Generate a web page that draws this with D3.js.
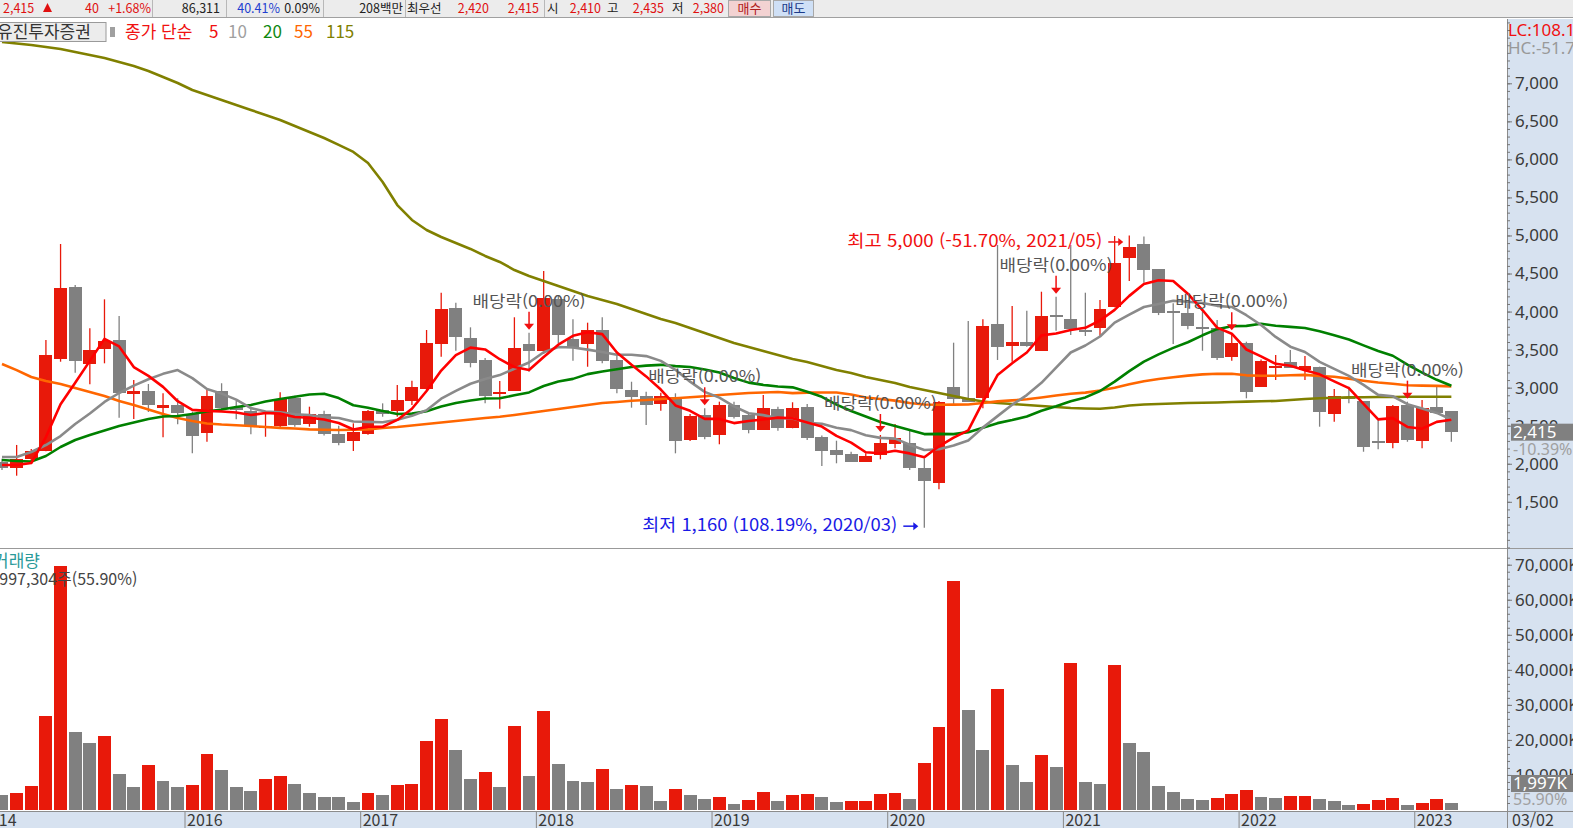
<!DOCTYPE html>
<html lang="ko">
<head>
<meta charset="UTF-8">
<title>유진투자증권 월봉</title>
<script src="https://d3js.org/d3.v7.min.js"></script>
<style>
  body { margin: 0; background: #fff; overflow: hidden; }
  svg { display: block; font-family: "Noto Sans CJK KR", "Noto Sans", sans-serif; }
</style>
</head>
<body>
<div id="chart"></div>
<script>
// monthly candles, Dec 2014 .. Mar 2023
const months = d3.timeMonth.range(new Date(2014, 11, 1), new Date(2023, 3, 1)).map(d3.timeFormat("%Y/%m"));

const open = [2020,1944,2062,2172,3381,4323,3314,3504,3627,2916,2956,2737,2772,2654,2408,2956,2746,2693,2479,2500,
  2864,2518,2654,2391,2299,2395,2706,2697,2829,2987,3577,4047,3652,3364,2926,2960,3574,3485,4161,3639,
  3577,3758,3364,2969,2895,2785,2881,2312,2641,2378,2772,2637,2447,2720,2474,2742,2355,2181,2124,2027,
  2114,2256,2269,1948,1751,3012,2860,2860,3837,3551,3596,3485,3958,3902,3758,3781,4056,4700,4888,4556,
  4012,3985,3801,3781,3407,3583,3012,3268,3337,3232,3276,2650,2881,2825,2299,2276,2772,2303,2750,2693];
const high = [2065,2247,2193,3627,4888,4350,3780,4161,3942,3101,3048,2926,2860,2684,2979,3058,2829,2729,2684,2939,
  2895,2750,2697,2500,2531,2706,2794,3035,3091,3758,4248,4116,3793,3390,3087,3925,3722,4533,4204,3898,
  3854,3925,3429,3078,2947,2934,2926,2654,2729,2816,2816,2654,2904,2750,2808,2785,2371,2303,2158,2137,
  2378,2522,2452,2072,2825,3591,3876,3898,4875,4073,4012,4261,4195,4875,4248,4152,4993,5000,4985,4556,
  4109,4109,4021,3889,3714,3604,3369,3429,3495,3416,3276,2983,3012,2825,2575,2772,2816,2837,3035,2693];
const low = [1917,1843,2010,2164,3341,3197,3044,3320,2605,2588,2680,2348,2518,2137,2289,2684,2584,2387,2355,2456,
  2487,2487,2371,2243,2168,2382,2618,2618,2772,2969,3407,3485,3267,2794,2724,2960,3210,3442,3583,3354,
  3275,3320,2926,2737,2510,2697,2137,2299,2321,2256,2595,2400,2447,2434,2466,2312,1970,2006,2027,2027,
  2058,2203,1917,1160,1664,2772,2811,2729,3364,3341,3537,3485,3749,3692,3679,3683,4056,4402,4379,3954,
  3574,3767,3485,3364,3354,2860,3012,3101,3262,3101,2487,2553,2794,2158,2190,2203,2289,2203,2664,2289];
const close = [1941,2058,2172,3429,4310,3354,3495,3617,2933,2956,2776,2772,2671,2368,2890,2737,2707,2500,2500,2851,
  2513,2654,2387,2276,2421,2693,2654,2837,3008,3591,4033,3670,3328,2891,2947,3521,3477,4183,3696,3531,
  3758,3350,2979,2881,2772,2895,2303,2628,2351,2772,2618,2443,2729,2470,2729,2343,2172,2114,2027,2102,
  2276,2335,1941,1778,2816,2847,2816,3810,3539,3596,3551,3942,3933,3771,3735,4030,4643,4852,4546,3985,
  3985,3810,3775,3393,3583,2947,3354,3289,3262,3285,2684,2891,2851,2216,2276,2763,2312,2737,2664,2415];
// volume in thousands of shares
const volume = [4170,4953,6956,26950,69770,22170,19020,21255,10373,6672,12967,8390,6672,7221,16119,11289,6672,5492,8950,9560,
  7526,4983,3824,3763,2390,4983,4373,7221,7373,19832,25832,17187,8950,10984,6672,23900,9560,28171,13221,8390,
  8105,11797,6102,7221,6956,2675,6102,4373,3254,3824,1831,2949,5238,2675,4373,4475,3824,2390,2492,2675,
  4678,4953,3254,13526,23594,65393,28578,17187,34476,12713,8105,15764,12407,41900,8105,7526,41290,19018,16679,6956,
  5238,3254,2949,3529,4678,5797,3824,3529,3865,4099,3254,2675,1526,1831,2949,3529,1526,2105,3254,1997];

const ma5Lead = [1984,1984,2010,2351];
const ma10Lead = [2089,2089,2154,2246,2364,2522,2661,2812,2930];
const ma20Lead = [2050,2037,2030,2102,2220,2312,2378,2437,2495,2542,2588,2621,2628,2654,2686,2713,2746,2772,2818];
const ma55Lead = [3311,3231,3140,3087,3048,2995,2943,2890,2825,2772,2713,2654,2601,2562,2529,2515,2506,2496,2483,2472,
  2463,2452,2446,2443,2446,2452,2470,2483,2503,2522,2542,2562,2582,2601,2618,2641,2667,2693,2720,2746,
  2772,2798,2812,2829,2837,2851,2860,2873,2887,2904,2916,2930,2936,2943];
const ma115Lead = [7542,7523,7503,7477,7451,7411,7372,7332,7280,7228,7161,7083,7004,6912,6846,6780,6715,6649,6584,6517,
  6438,6360,6281,6190,6098,5952,5703,5400,5204,5072,4980,4902,4823,4731,4652,4546,4468,4402,4336,4270,
  4204,4152,4100,4033,3968,3902,3850,3784,3718,3652,3587,3534,3481,3429,3377,3337,3285,3231,3193,3140,
  3100,3062,3008,2969,2929,2890,2850,2818,2798,2785,2772,2758,2746,2733,2726,2723,2739,2765,2778,2785,
  2792,2798,2802,2805,2812,2816,2821,2825,2837,2851,2860,2867,2872,2875,2877,2877,2880,2881,2881,2881];

const dividendMonths = ["2017/12","2018/12","2019/12","2020/12","2021/12","2022/12"];
const highMonth = "2021/05", highValue = 5000;
const lowMonth = "2020/03", lowValue = 1160;
const yearTicks = ["2016","2017","2018","2019","2020","2021","2022","2023"];
const priceTicks = d3.range(1500, 7001, 500);
const priceMinor = d3.range(900, 7801, 100);
const volTicks = d3.range(10000, 70001, 10000);
const volMinor = d3.range(2000, 72001, 2000);

const width = 1573, height = 828;
const plotRight = 1507;
const priceTop = 19, priceBottom = 548, volTop = 549, volBottom = 810;
const upColor = "#e8190a", downColor = "#808080";
const panelBg = "#d7e2f0";

const svg = d3.select("#chart").append("svg")
    .attr("width", width)
    .attr("height", height);

const defs = svg.append("defs");
defs.append("clipPath").attr("id", "clipPrice").append("rect")
    .attr("x", 0).attr("y", priceTop).attr("width", plotRight).attr("height", priceBottom - priceTop);
defs.append("clipPath").attr("id", "clipVol").append("rect")
    .attr("x", 0).attr("y", volTop).attr("width", plotRight).attr("height", volBottom - volTop + 1);

const x = d3.scaleBand()
    .domain(months)
    .range([-5.32, 1458.68])
    .paddingInner(0.12)
    .paddingOuter(0.06);
const cx = m => x(m) + x.bandwidth() / 2;

const y = d3.scaleLinear().domain([1500, 7000]).range([501.8, 83.3]);
const yVol = d3.scaleLinear().domain([0, 70000]).range([volBottom, 564.7]);

// ---- panels ----
svg.append("rect").attr("x", plotRight).attr("y", priceTop).attr("width", width - plotRight).attr("height", height - priceTop).attr("fill", panelBg);
svg.append("rect").attr("x", 0).attr("y", 811.5).attr("width", width).attr("height", height - 811.5).attr("fill", panelBg);
svg.append("line").attr("x1", 0).attr("x2", width).attr("y1", 811.5).attr("y2", 811.5).attr("stroke", "#8c8c8c");
svg.append("line").attr("x1", plotRight + 0.5).attr("x2", plotRight + 0.5).attr("y1", priceTop).attr("y2", height).attr("stroke", "#8c8c8c");
svg.append("line").attr("x1", 0).attr("x2", width).attr("y1", 548.5).attr("y2", 548.5).attr("stroke", "#999");

// ---- candles ----
const priceG = svg.append("g").attr("clip-path", "url(#clipPrice)");
const candles = months.map((m, i) => ({ m, o: open[i], h: high[i], l: low[i], c: close[i] }));

priceG.selectAll("line.wick")
    .data(candles)
    .join("line")
    .attr("class", "wick")
    .attr("x1", d => cx(d.m)).attr("x2", d => cx(d.m))
    .attr("y1", d => y(d.h)).attr("y2", d => y(d.l))
    .attr("stroke", d => d.c >= d.o ? upColor : downColor)
    .attr("stroke-width", 1.3);

priceG.selectAll("rect.body")
    .data(candles)
    .join("rect")
    .attr("class", "body")
    .attr("x", d => x(d.m))
    .attr("width", x.bandwidth())
    .attr("y", d => y(Math.max(d.o, d.c)))
    .attr("height", d => Math.max(2, Math.abs(y(d.o) - y(d.c))))
    .attr("fill", d => d.c >= d.o ? upColor : downColor)
    .attr("shape-rendering", "crispEdges");

// ---- moving averages ----
function movingAverage(period, lead) {
  return close.map((c, i) => i < period - 1 ? lead[i] : d3.mean(close.slice(i - period + 1, i + 1)));
}
const maSpecs = [
  { period: 115, color: "#808000", lead: ma115Lead },
  { period: 55, color: "#ff6600", lead: ma55Lead },
  { period: 20, color: "#008000", lead: ma20Lead },
  { period: 10, color: "#8a8a8a", lead: ma10Lead },
  { period: 5, color: "#ff0000", lead: ma5Lead }
];
const maLine = d3.line().x((d, i) => cx(months[i])).y(d => y(d));
maSpecs.forEach(s => {
  priceG.append("path")
      .datum(movingAverage(s.period, s.lead))
      .attr("d", maLine)
      .attr("fill", "none")
      .attr("stroke", s.color)
      .attr("stroke-width", 2.6)
      .attr("stroke-linejoin", "round");
});

// ---- dividend markers ----
dividendMonths.forEach(m => {
  const i = months.indexOf(m);
  const bottom = y(high[i]) - 3, top = bottom - 18, xc = cx(m);
  priceG.append("line")
      .attr("x1", xc).attr("x2", xc).attr("y1", top).attr("y2", bottom - 5)
      .attr("stroke", "#f01010").attr("stroke-width", 1.5);
  priceG.append("path")
      .attr("d", `M${xc - 5},${bottom - 6}L${xc + 5},${bottom - 6}L${xc},${bottom}Z`)
      .attr("fill", "#f01010");
  priceG.append("text")
      .attr("x", xc).attr("y", top - 5)
      .attr("text-anchor", "middle")
      .attr("font-size", 16)
      .attr("fill", "#555")
      .attr("textLength", 113).attr("lengthAdjust", "spacingAndGlyphs")
      .text("배당락(0.00%)");
});

// ---- high / low notes ----
function note(m, value, dy, label, color) {
  const tipX = cx(m) - 6, tipY = y(value) + dy;
  priceG.append("line")
      .attr("x1", tipX - 15).attr("x2", tipX - 4).attr("y1", tipY).attr("y2", tipY)
      .attr("stroke", color).attr("stroke-width", 1.5);
  priceG.append("path")
      .attr("d", `M${tipX - 5},${tipY - 4}L${tipX},${tipY}L${tipX - 5},${tipY + 4}Z`)
      .attr("fill", color);
  priceG.append("text")
      .attr("x", tipX - 21).attr("y", tipY + 5)
      .attr("text-anchor", "end")
      .attr("font-size", 17)
      .attr("fill", color)
      .attr("textLength", 255).attr("lengthAdjust", "spacingAndGlyphs")
      .text(label);
}
note(highMonth, highValue, 6.5, `최고 ${d3.format(",")(highValue)} (-51.70%, ${highMonth})`, "#f01010");
note(lowMonth, lowValue, -1.5, `최저 ${d3.format(",")(lowValue)} (108.19%, ${lowMonth})`, "#1a1ae6");

// ---- volume ----
const volG = svg.append("g").attr("clip-path", "url(#clipVol)");
volG.selectAll("rect")
    .data(volume)
    .join("rect")
    .attr("x", (d, i) => x(months[i]))
    .attr("width", x.bandwidth())
    .attr("y", d => yVol(d))
    .attr("height", d => volBottom - yVol(d))
    .attr("fill", (d, i) => i > 0 && d > volume[i - 1] ? upColor : downColor)
    .attr("shape-rendering", "crispEdges");

// ---- right axes ----
const axisG = svg.append("g").attr("transform", `translate(${plotRight},0)`);
axisG.append("g").call(d3.axisRight(y).tickValues(priceMinor).tickSize(3).tickFormat(""));
axisG.append("g").call(d3.axisRight(y).tickValues(priceTicks).tickSize(5).tickPadding(3).tickFormat(d3.format(",")));
axisG.append("g").call(d3.axisRight(yVol).tickValues(volMinor).tickSize(3).tickFormat(""));
axisG.append("g").call(d3.axisRight(yVol).tickValues(volTicks).tickSize(5).tickPadding(3).tickFormat(d => d3.format(",")(d) + "K"));
axisG.selectAll(".domain").remove();
axisG.selectAll(".tick line").attr("stroke", "#777");
axisG.selectAll(".tick text").attr("font-size", 17).attr("fill", "#3a3a3a").attr("font-family", "Noto Sans, sans-serif");

// current price / volume boxes
function valueBox(yTop, label, sub, subY) {
  svg.append("rect").attr("x", 1511).attr("y", yTop).attr("width", 62).attr("height", 17).attr("fill", "#808080");
  svg.append("text").attr("x", 1513).attr("y", yTop + 14).attr("font-size", 17).attr("fill", "#fff")
      .attr("font-family", "Noto Sans, sans-serif").text(label);
  svg.append("text").attr("x", 1513).attr("y", subY).attr("font-size", 16).attr("fill", "#a0a0a0")
      .attr("font-family", "Noto Sans, sans-serif").text(sub);
}
valueBox(y(close[99]) - 8.5, d3.format(",")(close[99]), "-10.39%", 455);
valueBox(775, d3.format(",")(volume[99]) + "K", "55.90%", 805);

svg.append("text").attr("x", 1508).attr("y", 36).attr("font-size", 17).attr("fill", "#f01010")
    .attr("font-family", "Noto Sans, sans-serif").text("LC:108.19%");
svg.append("text").attr("x", 1508).attr("y", 54).attr("font-size", 17).attr("fill", "#999")
    .attr("font-family", "Noto Sans, sans-serif").text("HC:-51.70%");

// ---- bottom date axis ----
const dateG = svg.append("g");
yearTicks.forEach(yr => {
  const xl = x(yr + "/01") - x.step() * x.paddingInner() / 2;
  dateG.append("line").attr("x1", xl).attr("x2", xl).attr("y1", 812).attr("y2", height).attr("stroke", "#888");
  dateG.append("text").attr("x", xl + 2).attr("y", 826).attr("font-size", 16).attr("fill", "#3a3a3a").text(yr);
});
dateG.append("text").attr("x", -19).attr("y", 826).attr("font-size", 16).attr("fill", "#3a3a3a").text("2014");
dateG.append("text").attr("x", 1512).attr("y", 826).attr("font-size", 16).attr("fill", "#3a3a3a").text("03/02");

// ---- legend rows ----
svg.append("rect").attr("x", -2).attr("y", 22.5).attr("width", 108).attr("height", 19).attr("fill", "#ececec").attr("stroke", "#9a9a9a");
svg.append("text").attr("x", -3).attr("y", 38).attr("font-size", 17).attr("fill", "#333").text("유진투자증권");
svg.append("rect").attr("x", 110).attr("y", 27).attr("width", 5).attr("height", 10).attr("fill", "#a0a0a0");
svg.append("text").attr("x", 125).attr("y", 38).attr("font-size", 17).attr("fill", "#f01010").text("종가 단순");
const legendItems = [["5", 209, "#f01010"], ["10", 228, "#a0a0a0"], ["20", 263, "#118811"], ["55", 294, "#ff6600"], ["115", 326, "#808000"]];
legendItems.forEach(([t, lx, c]) => {
  svg.append("text").attr("x", lx).attr("y", 38).attr("font-size", 17).attr("fill", c).text(t);
});

svg.append("text").attr("x", -7).attr("y", 567).attr("font-size", 17).attr("fill", "#2a9a9a").text("거래량");
svg.append("text").attr("x", -14).attr("y", 585).attr("font-size", 16).attr("fill", "#444").text("1,997,304주(55.90%)");

// ---- top quote bar ----
const bar = svg.append("g");
bar.append("rect").attr("x", 0).attr("y", 0).attr("width", width).attr("height", 17).attr("fill", "#ececec");
bar.append("line").attr("x1", 0).attr("x2", width).attr("y1", 17.5).attr("y2", 17.5).attr("stroke", "#a0a0a0");
const quote = [
  ["2,415", 3, "start", "#e01010"], ["40", 99, "end", "#e01010"], ["+1.68%", 151, "end", "#e01010"],
  ["86,311", 220, "end", "#222"], ["40.41%", 280, "end", "#1f3fd0"], ["0.09%", 320, "end", "#222"],
  ["208백만", 403, "end", "#222"], ["최우선", 407, "start", "#222"], ["2,420", 489, "end", "#e01010"],
  ["2,415", 539, "end", "#e01010"], ["시", 547, "start", "#222"], ["2,410", 601, "end", "#e01010"],
  ["고", 607, "start", "#222"], ["2,435", 664, "end", "#e01010"], ["저", 672, "start", "#222"],
  ["2,380", 724, "end", "#e01010"]
];
quote.forEach(([t, qx, anchor, c]) => {
  bar.append("text").attr("x", qx).attr("y", 12.5).attr("text-anchor", anchor)
      .attr("font-size", 12.5).attr("fill", c).text(t);
});
bar.append("path").attr("d", "M43,12L52,12L47.5,3Z").attr("fill", "#e01010");
[152, 226, 323, 405, 544].forEach(sx => {
  bar.append("line").attr("x1", sx + 0.5).attr("x2", sx + 0.5).attr("y1", 0).attr("y2", 17).attr("stroke", "#b8b8b8");
});
bar.append("rect").attr("x", 728.5).attr("y", 0.5).attr("width", 42).attr("height", 16).attr("fill", "#f3d2d2").attr("stroke", "#a8a8a8");
bar.append("text").attr("x", 749.5).attr("y", 13).attr("text-anchor", "middle").attr("font-size", 13).attr("fill", "#b02020").text("매수");
bar.append("rect").attr("x", 773.5).attr("y", 0.5).attr("width", 40).attr("height", 16).attr("fill", "#cfe0f6").attr("stroke", "#a8a8a8");
bar.append("text").attr("x", 793.5).attr("y", 13).attr("text-anchor", "middle").attr("font-size", 13).attr("fill", "#1a3a8a").text("매도");
</script>
</body>
</html>
